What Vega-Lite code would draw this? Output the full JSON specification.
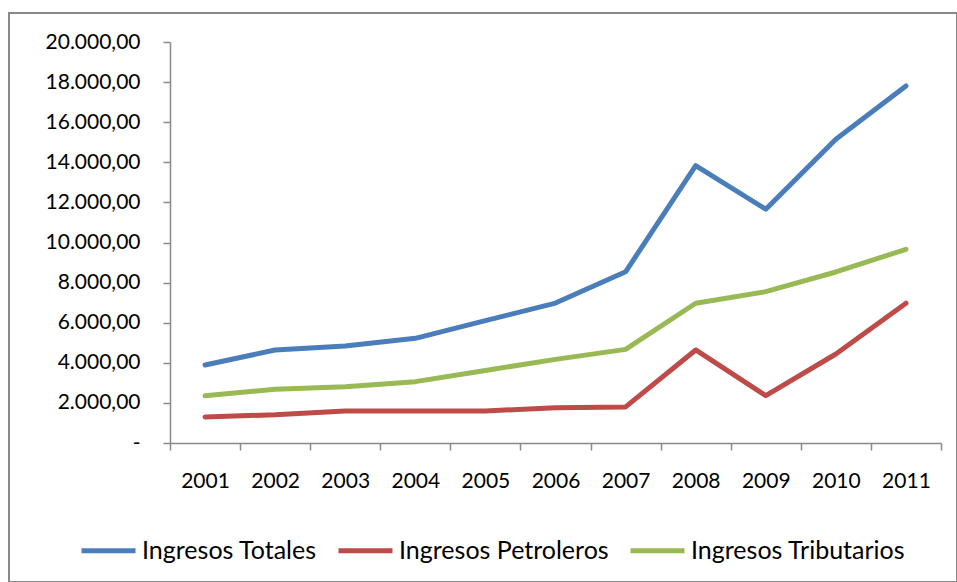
{
  "$schema": "https://vega.github.io/schema/vega-lite/v6.json",
  "autosize": {"type": "none"},
  "width": 948,
  "height": 569,
  "padding": {"left": 9, "top": 13, "right": 0, "bottom": 0},
  "background": "white",
  "config": {
    "locale": {"number": {"decimal": ",", "thousands": ".", "grouping": [3], "currency": ["", ""]}},
    "view": {"stroke": "#898989", "strokeWidth": 2},
    "font": "Lato"
  },
  "data": {
    "values": [
      {"year": "2001", "series": "Ingresos Totales", "value": 3890},
      {"year": "2002", "series": "Ingresos Totales", "value": 4640},
      {"year": "2003", "series": "Ingresos Totales", "value": 4840},
      {"year": "2004", "series": "Ingresos Totales", "value": 5220},
      {"year": "2005", "series": "Ingresos Totales", "value": 6100},
      {"year": "2006", "series": "Ingresos Totales", "value": 6980},
      {"year": "2007", "series": "Ingresos Totales", "value": 8540},
      {"year": "2008", "series": "Ingresos Totales", "value": 13830},
      {"year": "2009", "series": "Ingresos Totales", "value": 11660},
      {"year": "2010", "series": "Ingresos Totales", "value": 15150},
      {"year": "2011", "series": "Ingresos Totales", "value": 17810},
      {"year": "2001", "series": "Ingresos Petroleros", "value": 1300},
      {"year": "2002", "series": "Ingresos Petroleros", "value": 1410},
      {"year": "2003", "series": "Ingresos Petroleros", "value": 1600},
      {"year": "2004", "series": "Ingresos Petroleros", "value": 1600},
      {"year": "2005", "series": "Ingresos Petroleros", "value": 1600},
      {"year": "2006", "series": "Ingresos Petroleros", "value": 1760},
      {"year": "2007", "series": "Ingresos Petroleros", "value": 1800},
      {"year": "2008", "series": "Ingresos Petroleros", "value": 4640},
      {"year": "2009", "series": "Ingresos Petroleros", "value": 2360},
      {"year": "2010", "series": "Ingresos Petroleros", "value": 4440},
      {"year": "2011", "series": "Ingresos Petroleros", "value": 6970},
      {"year": "2001", "series": "Ingresos Tributarios", "value": 2360},
      {"year": "2002", "series": "Ingresos Tributarios", "value": 2680},
      {"year": "2003", "series": "Ingresos Tributarios", "value": 2810},
      {"year": "2004", "series": "Ingresos Tributarios", "value": 3060},
      {"year": "2005", "series": "Ingresos Tributarios", "value": 3620},
      {"year": "2006", "series": "Ingresos Tributarios", "value": 4170},
      {"year": "2007", "series": "Ingresos Tributarios", "value": 4670},
      {"year": "2008", "series": "Ingresos Tributarios", "value": 6970},
      {"year": "2009", "series": "Ingresos Tributarios", "value": 7550},
      {"year": "2010", "series": "Ingresos Tributarios", "value": 8530},
      {"year": "2011", "series": "Ingresos Tributarios", "value": 9660}
    ]
  },
  "mark": {"type": "line", "strokeWidth": 5, "strokeCap": "round", "strokeJoin": "round"},
  "encoding": {
    "x": {
      "field": "year",
      "type": "ordinal",
      "scale": {"type": "band", "paddingInner": 0, "paddingOuter": 0, "range": [161, 932]},
      "axis": {
        "title": null,
        "orient": "bottom",
        "offset": -139,
        "tickBand": "extent",
        "domainColor": "#898989",
        "domainWidth": 1.5,
        "tickColor": "#898989",
        "tickWidth": 1.5,
        "tickSize": 7,
        "labelFontSize": 21,
        "labelColor": "black",
        "labelPadding": 20,
        "labelAngle": 0,
        "grid": false
      }
    },
    "y": {
      "field": "value",
      "type": "quantitative",
      "scale": {"domain": [0, 20000], "range": [430, 29], "nice": false, "zero": true},
      "axis": {
        "title": null,
        "offset": -161,
        "values": [0, 2000, 4000, 6000, 8000, 10000, 12000, 14000, 16000, 18000, 20000],
        "format": ",.2f",
        "labelExpr": "datum.value == 0 ? '-\u2002' : datum.label",
        "domainColor": "#898989",
        "domainWidth": 1.5,
        "tickColor": "#898989",
        "tickWidth": 1.5,
        "tickSize": 7,
        "labelFontSize": 21,
        "labelColor": "black",
        "labelPadding": 23,
        "grid": false
      }
    },
    "color": {
      "field": "series",
      "type": "nominal",
      "scale": {
        "domain": ["Ingresos Totales", "Ingresos Petroleros", "Ingresos Tributarios"],
        "range": ["#4a7ebb", "#be4b48", "#98b954"]
      },
      "legend": {
        "title": null,
        "orient": "none",
        "legendX": 70,
        "legendY": 508,
        "direction": "horizontal",
        "symbolType": "stroke",
        "symbolSize": 2916,
        "symbolStrokeWidth": 5,
        "labelFontSize": 25,
        "labelColor": "black",
        "labelOffset": 4,
        "columnPadding": 11,
        "labelLimit": 400
      }
    }
  }
}
